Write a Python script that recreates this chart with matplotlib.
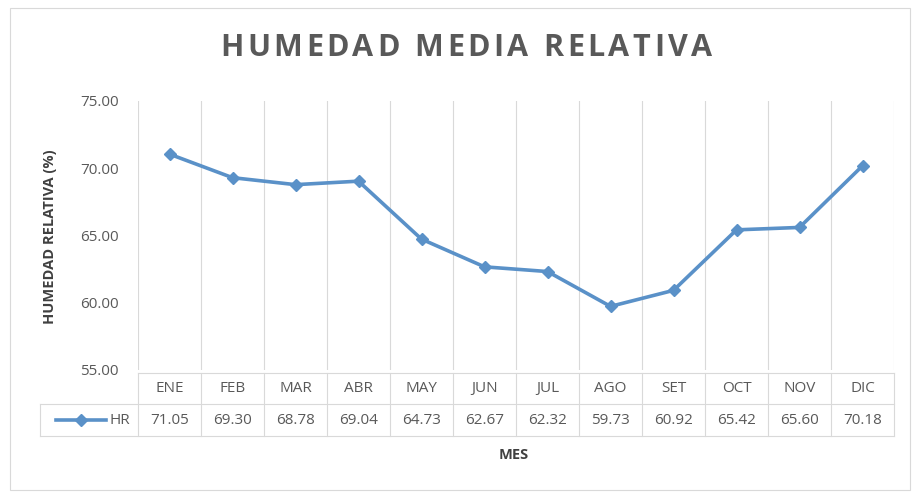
import matplotlib
matplotlib.use("Agg")
import matplotlib.pyplot as plt
from matplotlib.lines import Line2D
from matplotlib.patches import Rectangle

months = ["ENE", "FEB", "MAR", "ABR", "MAY", "JUN", "JUL", "AGO", "SET", "OCT", "NOV", "DIC"]
hr = [71.05, 69.30, 68.78, 69.04, 64.73, 62.67, 62.32, 59.73, 60.92, 65.42, 65.60, 70.18]
yticks = [55.0, 60.0, 65.0, 70.0, 75.0]
series_name = "HR"
title = "HUMEDAD MEDIA RELATIVA"

plt.rcParams['font.family'] = ['Open Sans', 'DejaVu Sans']

W, H = 916, 494
fig = plt.figure(figsize=(W / 100, H / 100), dpi=100)
fig.patch.set_facecolor("white")

# outer chart frame
fig.patches.append(Rectangle((10 / W, 1 - 490 / H), 900 / W, 482 / H, transform=fig.transFigure,
                             fill=False, edgecolor="#d9d9d9", linewidth=0.8))

left, right, top, bottom = 138, 894, 101, 370
ax = fig.add_axes([left / W, 1 - bottom / H, (right - left) / W, (bottom - top) / H])
n = len(months)
x = list(range(n))
ax.set_xlim(-0.5, n - 0.5)
ax.set_ylim(55, 75)
color = "#5a91c8"
ax.plot(x, hr, color=color, linewidth=2.6, marker="D", markersize=6.5, zorder=3)

for s in ax.spines.values():
    s.set_visible(False)
ax.set_xticks([])
ax.set_yticks(yticks)
ax.set_yticklabels([f"{v:.2f}" for v in yticks], fontsize=11, color="#595959")
ax.tick_params(axis="y", length=0, pad=14)
for b in range(n + 1):
    ax.axvline(b - 0.5, color="#d9d9d9", linewidth=0.8, zorder=1)

# data table
ph = bottom - top
r1 = -(373 - bottom) / ph
r2 = -(404 - bottom) / ph
r3 = -(436 - bottom) / ph
tr = ax.get_xaxis_transform()
lc = "#d9d9d9"
xl = -0.5 - (left - 40) / ((right - left) / n)
ax.add_line(Line2D([-0.5, n - 0.5], [r1, r1], transform=tr, color=lc, lw=0.8, clip_on=False))
for yy in (r2, r3):
    ax.add_line(Line2D([xl, n - 0.5], [yy, yy], transform=tr, color=lc, lw=0.8, clip_on=False))
ax.add_line(Line2D([xl, xl], [r2, r3], transform=tr, color=lc, lw=0.8, clip_on=False))
for b in range(n + 1):
    ax.add_line(Line2D([b - 0.5, b - 0.5], [r1, r3], transform=tr, color=lc, lw=0.8, clip_on=False))
for i, (m, v) in enumerate(zip(months, hr)):
    ax.text(i, (r1 + r2) / 2, m, transform=tr, ha="center", va="center", fontsize=11, color="#595959")
    ax.text(i, (r2 + r3) / 2, f"{v:.2f}", transform=tr, ha="center", va="center", fontsize=11, color="#595959")
ym = (r2 + r3) / 2
ax.add_line(Line2D([xl + 0.25, xl + 1.05], [ym, ym], transform=tr, color=color, lw=2.6, clip_on=False))
ax.add_line(Line2D([xl + 0.65], [ym], transform=tr, color=color, marker="D", markersize=6.5, clip_on=False))
ax.text(xl + 1.1, ym, series_name, transform=tr, ha="left", va="center", fontsize=11, color="#595959")

# letter-spaced title
renderer = fig.canvas.get_renderer()
tprops = dict(fontsize=22, fontweight="bold", color="#595959", va="center", ha="left")
chars = []
widths = []
for ch in title:
    t = fig.text(0, 1 - 48 / H, ch, **tprops)
    chars.append(t)
    if ch == " ":
        widths.append(8.0)
    else:
        widths.append(t.get_window_extent(renderer).width)
target = 492.0
gap = (target - sum(widths)) / (len(title) - 1)
xpos = 466 - target / 2
for t, w in zip(chars, widths):
    t.set_x(xpos / W)
    xpos += w + gap

fig.text(514 / W, 1 - 455 / H, "MES", ha="center", va="center", fontsize=10.5, fontweight="bold", color="#404040")
fig.text(50 / W, 1 - 237 / H, "HUMEDAD RELATIVA (%)", ha="center", va="center", rotation=90,
         fontsize=10.5, fontweight="bold", color="#404040")

fig.savefig("out.png", dpi=100)
